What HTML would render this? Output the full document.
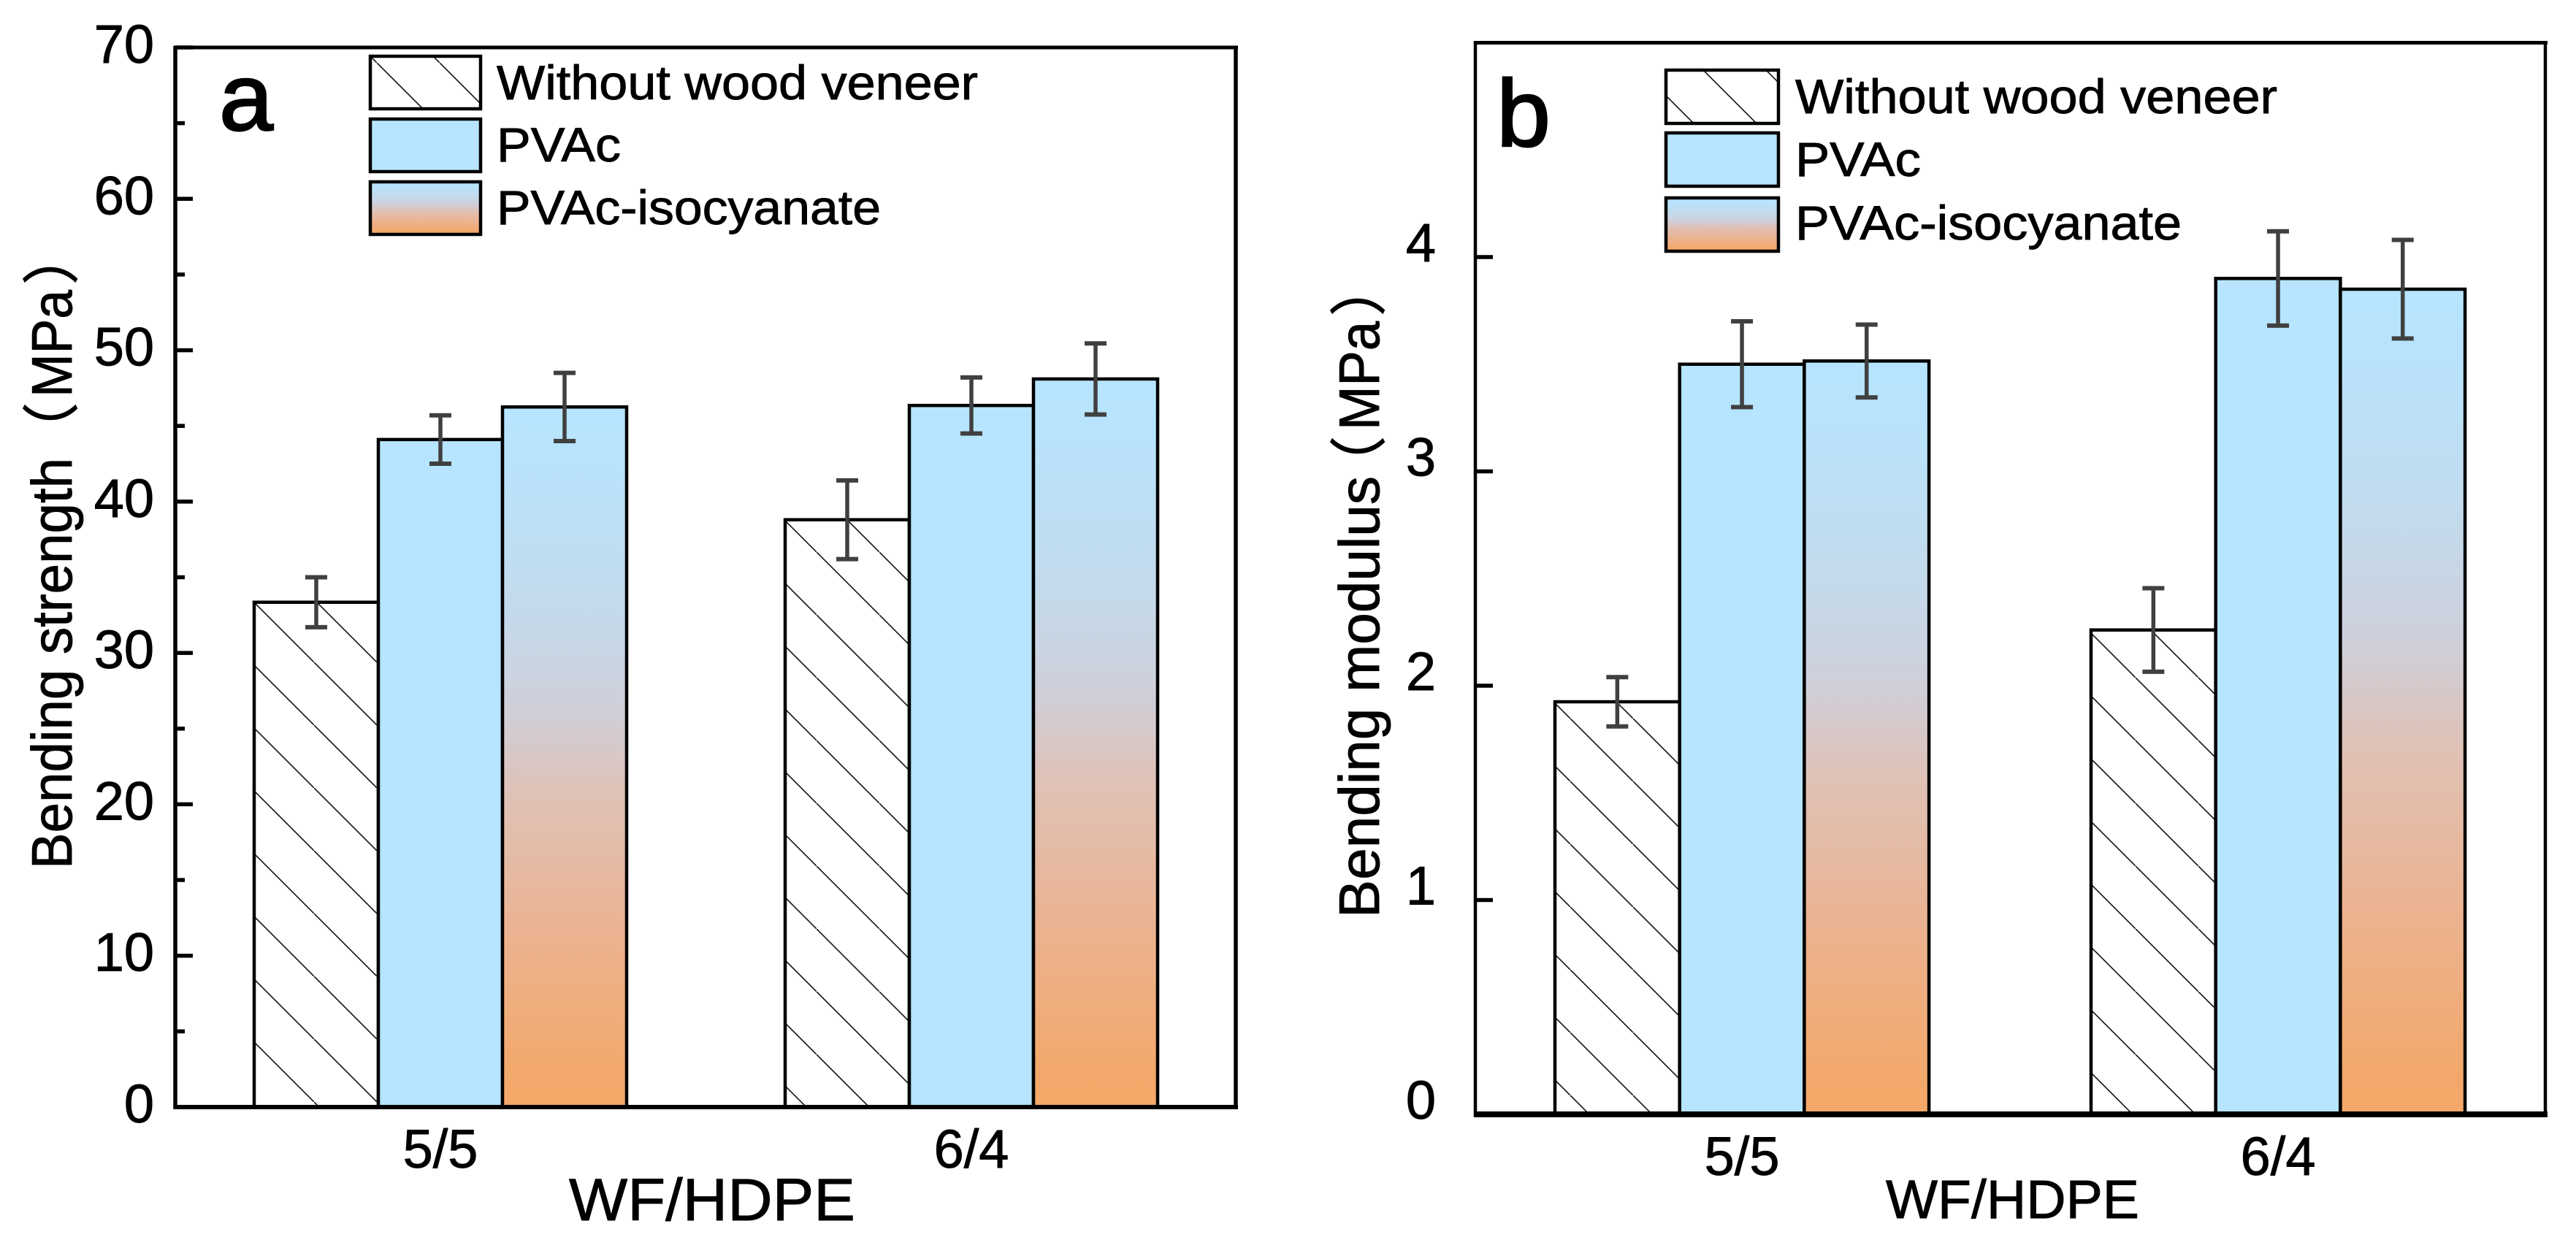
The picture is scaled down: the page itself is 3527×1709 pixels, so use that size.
<!DOCTYPE html>
<html lang="en">
<head>
<meta charset="utf-8">
<title>Bending strength and modulus</title>
<style>
html,body{margin:0;padding:0;background:#fff;}
svg{display:block;}
text{font-family:"Liberation Sans","Noto Sans CJK SC",sans-serif;fill:#000;stroke:#000;stroke-width:0.9px;}
</style>
</head>
<body>
<svg id="figure" xmlns="http://www.w3.org/2000/svg" width="3527" height="1709" viewBox="0 0 3527 1709">
  <defs>
    <linearGradient id="grad-iso" x1="0" y1="0" x2="0" y2="1">
      <stop offset="0" stop-color="#B7E4FE"/>
      <stop offset="0.08" stop-color="#B8E3FC"/>
      <stop offset="0.30" stop-color="#C4D9EA"/>
      <stop offset="0.43" stop-color="#CFCFDA"/>
      <stop offset="0.55" stop-color="#DFC2B7"/>
      <stop offset="0.75" stop-color="#EBB391"/>
      <stop offset="0.95" stop-color="#F3A86B"/>
      <stop offset="1" stop-color="#F4A86A"/>
    </linearGradient>
  </defs>
  <g id="panel-a"></g>
  <g id="panel-b"></g>
</svg>
<script>
// ---- chart data ----
const categories = ['5/5', '6/4'];
const seriesNames = ['Without wood veneer', 'PVAc', 'PVAc-isocyanate'];

const strengthWithout = [33.35, 38.8];
const strengthPVAc = [44.1, 46.35];
const strengthIso = [46.25, 48.1];
const strengthWithoutErr = [1.65, 2.6];
const strengthPVAcErr = [1.6, 1.85];
const strengthIsoErr = [2.25, 2.35];
const strengthTicks = [0, 10, 20, 30, 40, 50, 60, 70];
const strengthMinorTicks = [5, 15, 25, 35, 45, 55, 65];

const modulusWithout = [1.925, 2.26];
const modulusPVAc = [3.5, 3.9];
const modulusIso = [3.515, 3.85];
const modulusWithoutErr = [0.115, 0.195];
const modulusPVAcErr = [0.2, 0.22];
const modulusIsoErr = [0.17, 0.23];
const modulusTicks = [0, 1, 2, 3, 4];
const modulusMinorTicks = [];

const SVGNS = 'http://www.w3.org/2000/svg';
function make(parent, tag, attrs, txt) {
  const el = document.createElementNS(SVGNS, tag);
  for (const k in attrs) el.setAttribute(k, attrs[k]);
  if (txt !== undefined) el.textContent = txt;
  parent.appendChild(el);
  return el;
}
const defs = document.querySelector('defs');
function hatchPattern(id, c) {
  const p = make(defs, 'pattern', {id: id, patternUnits: 'userSpaceOnUse', width: 86, height: 86, patternTransform: 'translate(0,' + c + ')'});
  make(p, 'rect', {x: 0, y: 0, width: 86, height: 86, fill: '#fff'});
  make(p, 'line', {x1: -2, y1: -2, x2: 88, y2: 88, stroke: '#111', 'stroke-width': 1.6});
}

function drawPanel(cfg) {
  const root = document.getElementById(cfg.id);
  const yScale = v => cfg.y0 - (v - cfg.yMin) / (cfg.yMax - cfg.yMin) * (cfg.y0 - cfg.yTop);
  const xBar = (g, s) => cfg.barStart + g * cfg.groupStep + s * cfg.barW;
  const xCenter = g => xBar(g, 1) + cfg.barW / 2;
  const fills = ['hatch', '#B7E4FE', 'url(#grad-iso)'];

  // bars
  cfg.values.forEach((vals, s) => {
    vals.forEach((v, g) => {
      let fill = fills[s];
      if (s === 0) {
        const pid = cfg.id + '-hatch-' + g;
        hatchPattern(pid, cfg.hatchOffsets[g]);
        fill = 'url(#' + pid + ')';
      }
      const bar = make(root, 'rect', {
        x: xBar(g, s), y: yScale(v), width: cfg.barW, height: cfg.y0 - yScale(v),
        fill: fill, stroke: '#000', 'stroke-width': 4.5
      });
      
      
    });
  });

  // error bars
  cfg.errors.forEach((errs, s) => {
    errs.forEach((e, g) => {
      const v = cfg.values[s][g];
      const cx = xBar(g, s) + cfg.barW / 2;
      const group = make(root, 'g', {stroke: '#404040', fill: 'none'});
      
      
      make(group, 'line', {x1: cx, x2: cx, y1: yScale(v + e), y2: yScale(v - e), 'stroke-width': 5.5});
      make(group, 'line', {x1: cx - 15, x2: cx + 15, y1: yScale(v + e), y2: yScale(v + e), 'stroke-width': 6});
      make(group, 'line', {x1: cx - 15, x2: cx + 15, y1: yScale(v - e), y2: yScale(v - e), 'stroke-width': 6});
    });
  });

  // frame
  const frame = make(root, 'g', {stroke: '#000', fill: 'none'});
  
  
  make(frame, 'line', {x1: cfg.xLeft - 2, x2: cfg.xRight + 3, y1: cfg.yTop, y2: cfg.yTop, 'stroke-width': cfg.topW});
  make(frame, 'line', {x1: cfg.xLeft, x2: cfg.xLeft, y1: cfg.yTop - 2, y2: cfg.y0 + 3, 'stroke-width': cfg.sideW});
  make(frame, 'line', {x1: cfg.xRight, x2: cfg.xRight, y1: cfg.yTop - 2, y2: cfg.y0 + 3, 'stroke-width': cfg.sideW});
  make(frame, 'line', {x1: cfg.xLeft - 2, x2: cfg.xRight + 3, y1: cfg.y0, y2: cfg.y0, 'stroke-width': cfg.bottomW});

  // y ticks and labels
  cfg.ticks.forEach(t => {
    const y = yScale(t);
    const tick = make(root, 'line', {x1: cfg.xLeft, x2: cfg.xLeft + 24, y1: y, y2: y, stroke: '#000', 'stroke-width': 5.5});
    
    
    const lab = make(root, 'text', {x: cfg.tickLabelX, y: y + cfg.tickLabelDy, 'text-anchor': 'end', 'font-size': cfg.tickFont}, String(t));
    
    
  });
  cfg.minorTicks.forEach(t => {
    const y = yScale(t);
    const tick = make(root, 'line', {x1: cfg.xLeft, x2: cfg.xLeft + 13, y1: y, y2: y, stroke: '#000', 'stroke-width': 5.5});
    
    
  });

  // category labels
  categories.forEach((c, g) => {
    const lab = make(root, 'text', {x: xCenter(g), y: cfg.catBaseline, 'text-anchor': 'middle', 'font-size': 74}, c);
    
    
  });

  // axis titles
  const xt = make(root, 'text', {x: cfg.xTitleX, y: cfg.xTitleY, 'font-size': cfg.xTitleFont, textLength: cfg.xTitleLen, lengthAdjust: 'spacingAndGlyphs'}, 'WF/HDPE');
  
  
  const yt = make(root, 'text', {
    x: 0, y: 0, transform: 'translate(' + cfg.yTitleX + ',' + cfg.yTitleY + ') rotate(-90)',
    'font-size': 78
  });
  
  
  make(yt, 'tspan', {x: 0, textLength: cfg.yWordLen, lengthAdjust: 'spacingAndGlyphs'}, cfg.yTitleWord);
  make(yt, 'tspan', {x: cfg.yOpenX}, '（');
  make(yt, 'tspan', {x: cfg.yUnitX, textLength: cfg.yUnitLen, lengthAdjust: 'spacingAndGlyphs'}, 'MPa');
  make(yt, 'tspan', {x: cfg.yCloseX}, '）');

  // panel letter
  const pl = make(root, 'text', {x: cfg.letterX, y: cfg.letterY, 'font-size': 130, textLength: cfg.letterLen, lengthAdjust: 'spacingAndGlyphs', style: 'stroke-width:2.5px'}, cfg.letter);
  
  

  // legend
  const legendPid = cfg.id + '-hatch-legend';
  hatchPattern(legendPid, cfg.legendHatch);
  const legendFills = ['url(#' + legendPid + ')', '#B7E4FE', 'url(#grad-iso)'];
  const legend = make(root, 'g', {});
  
  
  seriesNames.forEach((name, i) => {
    const sw = make(legend, 'rect', {x: cfg.legX, y: cfg.legYs[i], width: cfg.legW, height: cfg.legH, fill: legendFills[i], stroke: '#000', 'stroke-width': 4.5});
    
    
    const tx = make(legend, 'text', {x: cfg.legTextX, y: cfg.legBase[i], 'font-size': 66, textLength: cfg.legLens[i], lengthAdjust: 'spacingAndGlyphs'}, name);
    
    
  });
}

drawPanel({
  id: 'panel-a', letter: 'a', yTitleWord: 'Bending strength',
  values: [strengthWithout, strengthPVAc, strengthIso],
  errors: [strengthWithoutErr, strengthPVAcErr, strengthIsoErr],
  ticks: strengthTicks, minorTicks: strengthMinorTicks,
  yMin: 0, yMax: 70, y0: 1516, yTop: 65, xLeft: 240, xRight: 1692,
  topW: 5, sideW: 5.5, bottomW: 6,
  barStart: 348, barW: 170, groupStep: 727, hatchOffsets: [47, 68],
  tickLabelX: 211, tickLabelDy: 21, tickFont: 74, catBaseline: 1599,
  xTitleX: 779, xTitleY: 1671, xTitleFont: 82, xTitleLen: 392,
  yTitleX: 98, yTitleY: 1190, yWordLen: 563, yOpenX: 561, yUnitX: 646, yUnitLen: 147, yCloseX: 800,
  letterX: 300, letterY: 178, letterLen: 74,
  legX: 507, legW: 151, legH: 72, legYs: [77, 163, 249], legHatch: 1,
  legTextX: 680, legBase: [136, 221, 307], legLens: [659, 170, 526]
});

drawPanel({
  id: 'panel-b', letter: 'b', yTitleWord: 'Bending modulus',
  values: [modulusWithout, modulusPVAc, modulusIso],
  errors: [modulusWithoutErr, modulusPVAcErr, modulusIsoErr],
  ticks: modulusTicks, minorTicks: modulusMinorTicks,
  yMin: 0, yMax: 5, y0: 1526, yTop: 58.5, xLeft: 2020, xRight: 3485,
  topW: 5, sideW: 4.5, bottomW: 8,
  barStart: 2129, barW: 170.7, groupStep: 734, hatchOffsets: [38, 68],
  tickLabelX: 1966, tickLabelDy: 6, tickFont: 74, catBaseline: 1609,
  xTitleX: 2582, xTitleY: 1668, xTitleFont: 74, xTitleLen: 347,
  yTitleX: 1888, yTitleY: 1257, yWordLen: 605, yOpenX: 582, yUnitX: 668, yUnitLen: 149, yCloseX: 824,
  letterX: 2049, letterY: 200, letterLen: 74,
  legX: 2281, legW: 154, legH: 73, legYs: [96, 182, 271], legHatch: 48,
  legTextX: 2458, legBase: [155, 241, 328], legLens: [660, 172, 529]
});
</script>
</body>
</html>
